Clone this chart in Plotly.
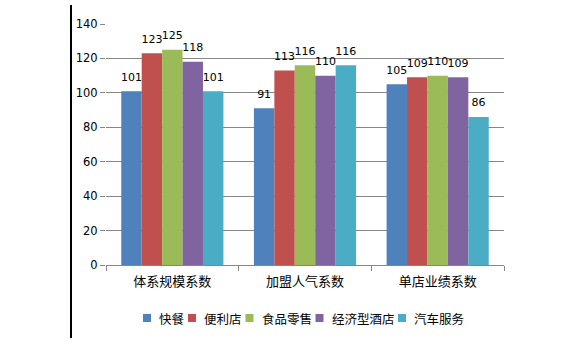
import plotly.graph_objects as go

categories = ["体系规模系数", "加盟人气系数", "单店业绩系数"]
series_names = ["快餐", "便利店", "食品零售", "经济型酒店", "汽车服务"]
kuaican = [101, 91, 105]
bianlidian = [123, 113, 109]
shipin = [125, 116, 110]
jiudian = [118, 110, 109]
qiche = [101, 116, 86]
series_values = [kuaican, bianlidian, shipin, jiudian, qiche]
colors = ["#4F81BD", "#C0504D", "#9BBB59", "#8064A2", "#4BACC6"]
y_ticks = [0, 20, 40, 60, 80, 100, 120, 140]

FONT = "Noto Sans CJK SC"
GAP = 0.23

fig = go.Figure()
for name, vals, c in zip(series_names, series_values, colors):
    fig.add_trace(go.Bar(
        name=name, x=categories, y=vals, marker=dict(color=c, line=dict(width=0)),
        showlegend=False,
    ))
for name, vals in zip(series_names, series_values):
    fig.add_trace(go.Scatter(
        name=name, x=categories, y=vals, mode="markers+text",
        marker=dict(size=11, opacity=0), text=[str(v) for v in vals],
        textposition="top center", cliponaxis=False, hoverinfo="skip",
        textfont=dict(size=11, color="#000000", family="DejaVu Sans"),
        showlegend=False,
    ))

W, H = 568, 355
l, r, t, b = 106, 64, 24, 90
pw, ph = W - l - r, H - t - b

def px_x(px):
    return (px - l) / pw

def px_y(py):
    return (H - b - py) / ph

# manual legend below the plot
shapes = [dict(type="line", xref="paper", yref="paper",
               x0=px_x(71), x1=px_x(71), y0=px_y(338), y1=px_y(5),
               line=dict(color="black", width=2))]
annotations = []
cx, cy, fs = 143, 318, 12.5
for name, c in zip(series_names, colors):
    shapes.append(dict(type="rect", xref="paper", yref="paper",
                       x0=px_x(cx), x1=px_x(cx + 8), y0=px_y(cy + 4), y1=px_y(cy - 4),
                       fillcolor=c, line=dict(width=0)))
    annotations.append(dict(xref="paper", yref="paper", x=px_x(cx + 14), y=px_y(cy),
                            xanchor="left", yanchor="middle", showarrow=False,
                            text=name, font=dict(size=fs, family=FONT, color="#000000")))
    cx = cx + 14 + fs * len(name) + 6

fig.update_layout(
    width=W, height=H, margin=dict(l=l, r=r, t=t, b=b, autoexpand=False),
    paper_bgcolor="white", plot_bgcolor="white",
    barmode="group", bargap=GAP, bargroupgap=0,
    scattermode="group", scattergap=GAP,
    font=dict(family=FONT, color="#000000"),
    showlegend=False,
    xaxis=dict(showline=True, linecolor="#868686", linewidth=1,
               ticks="outside", tickson="boundaries", ticklen=5, tickcolor="#868686",
               ticklabelstandoff=4,
               tickfont=dict(size=13, family=FONT)),
    yaxis=dict(range=[0, 140], tickvals=y_ticks, showgrid=True, gridcolor="#868686",
               gridwidth=1, zeroline=False, showline=False,
               ticks="outside", ticklen=5, tickcolor="#868686",
               tickfont=dict(size=11.5, family="DejaVu Sans")),
    shapes=shapes,
    annotations=annotations,
)
fig.write_html(
    "out.html",
    config={"displayModeBar": False},
    post_script="document.body.style.margin='0';document.body.style.overflow='hidden';",
)
